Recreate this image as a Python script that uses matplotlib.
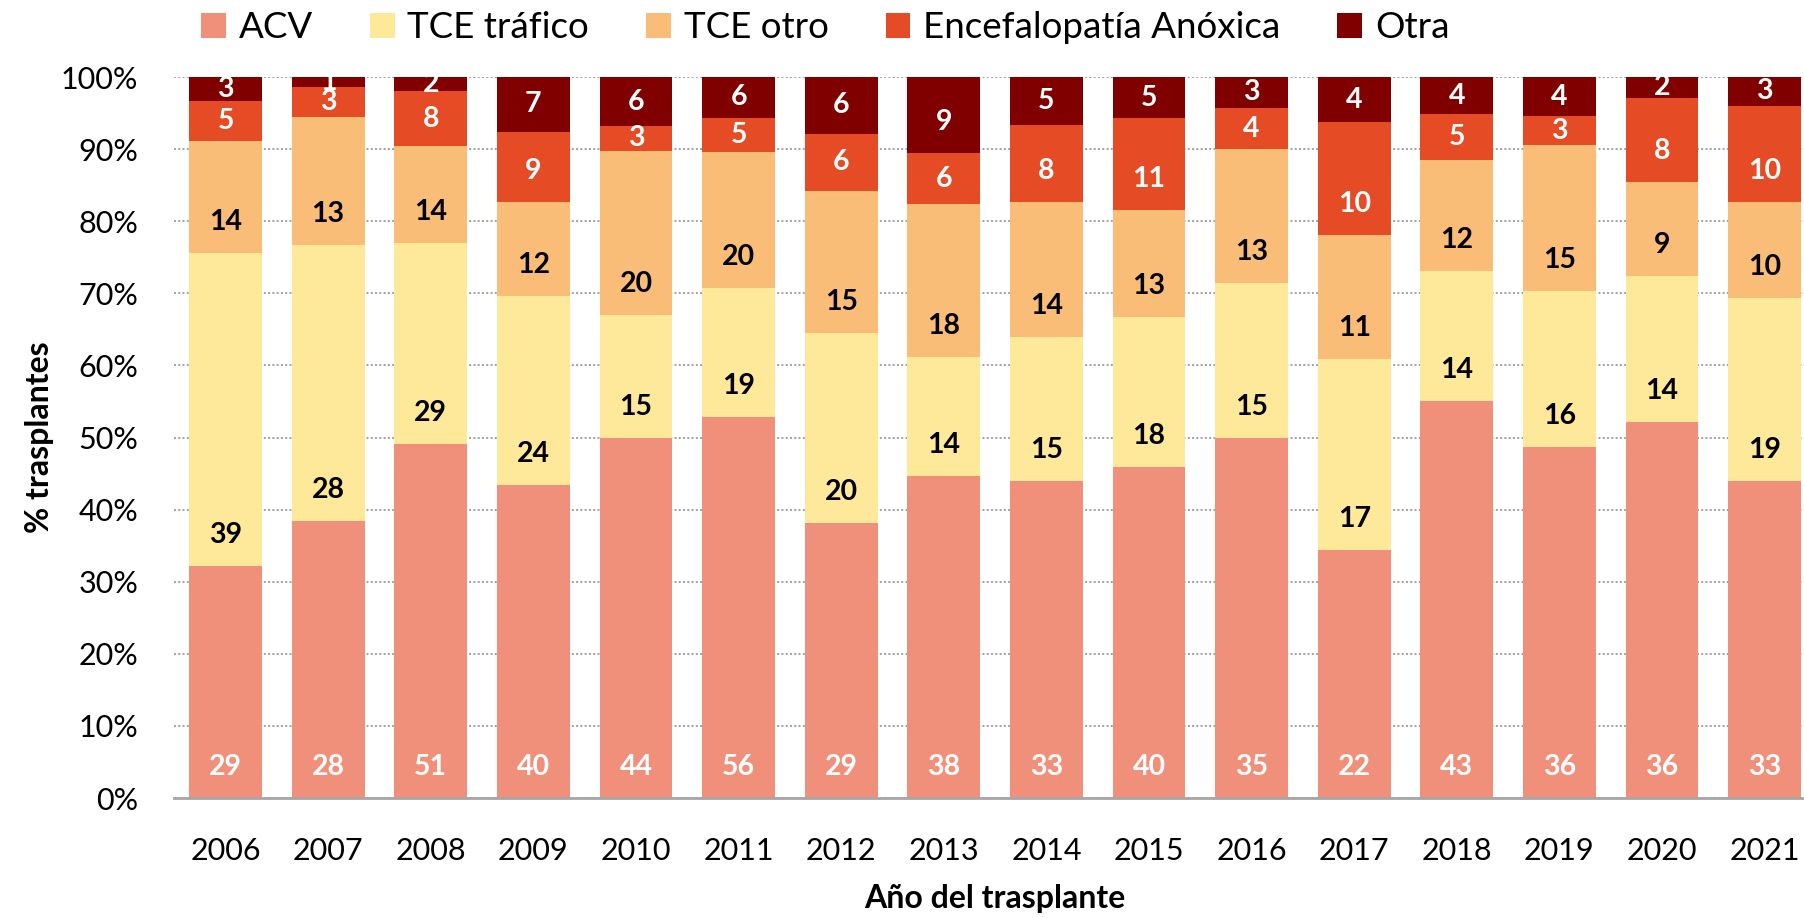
import matplotlib

matplotlib.use("Agg")
import matplotlib.pyplot as plt
import numpy as np

plt.rcParams["font.family"] = ["Lato", "DejaVu Sans"]

years = ["2006", "2007", "2008", "2009", "2010", "2011", "2012", "2013",
         "2014", "2015", "2016", "2017", "2018", "2019", "2020", "2021"]
causes = ["ACV", "TCE tráfico", "TCE otro", "Encefalopatía Anóxica", "Otra"]

# donor counts per cause of death and year
acv = [29, 28, 51, 40, 44, 56, 29, 38, 33, 40, 35, 22, 43, 36, 36, 33]
tce_trafico = [39, 28, 29, 24, 15, 19, 20, 14, 15, 18, 15, 17, 14, 16, 14, 19]
tce_otro = [14, 13, 14, 12, 20, 20, 15, 18, 14, 13, 13, 11, 12, 15, 9, 10]
encefalopatia = [5, 3, 8, 9, 3, 5, 6, 6, 8, 11, 4, 10, 5, 3, 8, 10]
otra = [3, 1, 2, 7, 6, 6, 6, 9, 5, 5, 3, 4, 4, 4, 2, 3]

colors = ["#F0907A", "#FEE89A", "#F9BD77", "#E54B24", "#800000"]
label_colors = ["white", "black", "black", "white", "white"]

counts = np.array([acv, tce_trafico, tce_otro, encefalopatia, otra], dtype=float)
pct = counts / counts.sum(axis=0) * 100

fig = plt.figure(figsize=(18.04, 9.18), dpi=100)
ax = fig.add_axes([0.0966, 0.1307, 0.910, 0.7854])

x = np.arange(len(years))
bottom = np.zeros(len(years))
for i, name in enumerate(causes):
    ax.bar(x, pct[i], 0.71, bottom=bottom, color=colors[i], label=name, zorder=2)
    # labels sit near the base of each segment (Excel "inside base")
    for j in range(len(years)):
        y = bottom[j] + min(4.3, pct[i, j] / 2)
        ax.text(x[j], y, f"{int(counts[i, j])}", ha="center", va="center",
                fontsize=20.5, fontweight="bold", color=label_colors[i], zorder=3)
    bottom += pct[i]

ax.set_xlim(-0.5, len(years) - 0.5)
ax.set_ylim(0, 100)
ax.set_yticks(np.arange(0, 101, 10))
ax.set_yticklabels([f"{v}%" for v in range(0, 101, 10)])
ax.set_xticks(x)
ax.set_xticklabels(years)
ax.tick_params(axis="y", length=0, pad=26, labelsize=22)
ax.tick_params(axis="x", length=0, pad=28, labelsize=22)
ax.yaxis.grid(True, linestyle=(0, (1, 1.2)), color="#A0A0A0", linewidth=1.4, zorder=0)
ax.set_axisbelow(True)
for s in ["left", "right", "top"]:
    ax.spines[s].set_visible(False)
ax.spines["bottom"].set_color("#A6A6A6")
ax.spines["bottom"].set_linewidth(2)

ax.set_ylabel("% trasplantes", fontsize=23, fontweight="bold", labelpad=5)
ax.set_xlabel("Año del trasplante", fontsize=23, fontweight="bold", labelpad=14)

fig.legend(loc="center left", bbox_to_anchor=(201 / 1804, 1 - 28 / 918), ncol=5,
           frameon=False, fontsize=26.5, borderpad=0, borderaxespad=0,
           handlelength=0.67, handleheight=0.67, handletextpad=0.35,
           columnspacing=1.55)

fig.savefig("out.png", dpi=100)
